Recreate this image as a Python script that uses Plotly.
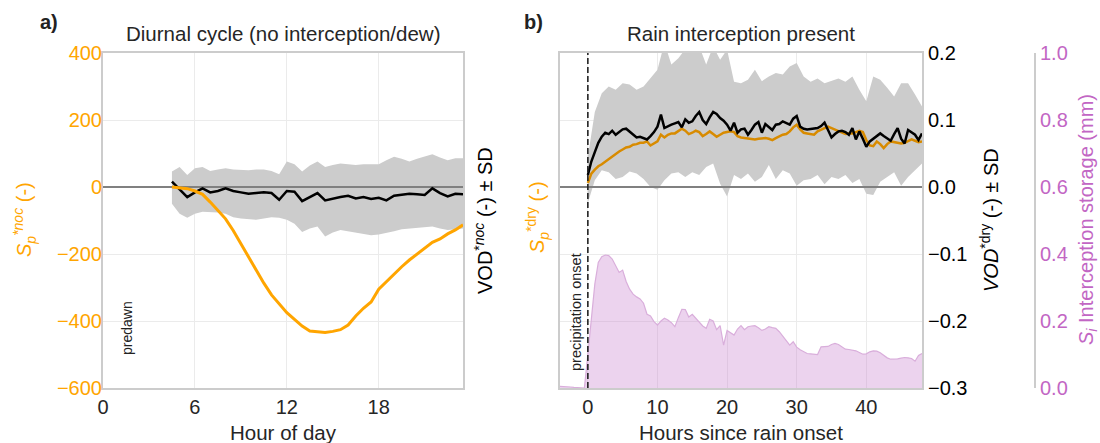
import plotly.graph_objects as go

W, H = 1100, 443

# ---------------- Panel a: diurnal cycle ----------------
hour_a = [4.5 + 0.5 * i for i in range(39)]
vod_noc = [0.008, -0.004, -0.015, -0.008, -0.002, -0.008, -0.006, -0.002, -0.006, -0.008,
           -0.010, -0.009, -0.008, -0.009, -0.019, -0.006, -0.007, -0.021, -0.015, -0.009,
           -0.020, -0.017, -0.015, -0.013, -0.017, -0.015, -0.018, -0.016, -0.020, -0.013,
           -0.012, -0.010, -0.011, -0.012, -0.002, -0.009, -0.014, -0.010, -0.011]
vod_noc_upper = [0.023, 0.030, 0.018, 0.028, 0.030, 0.024, 0.026, 0.028, 0.026, 0.025,
                 0.025, 0.026, 0.026, 0.024, 0.019, 0.038, 0.034, 0.023, 0.032, 0.038,
                 0.030, 0.033, 0.035, 0.034, 0.033, 0.034, 0.034, 0.034, 0.040, 0.045,
                 0.042, 0.038, 0.042, 0.045, 0.049, 0.044, 0.040, 0.043, 0.043]
vod_noc_lower = [-0.025, -0.040, -0.046, -0.040, -0.037, -0.037, -0.038, -0.040, -0.045, -0.047,
                 -0.048, -0.049, -0.047, -0.045, -0.046, -0.049, -0.055, -0.067, -0.062, -0.059,
                 -0.074, -0.068, -0.064, -0.066, -0.067, -0.070, -0.072, -0.071, -0.069, -0.066,
                 -0.063, -0.062, -0.060, -0.059, -0.059, -0.062, -0.064, -0.063, -0.062]
sp_noc = [0, -2, -5, -12, -22, -45, -70, -95, -130, -170,
          -210, -248, -287, -322, -350, -375, -395, -415, -430, -433,
          -434, -431, -426, -412, -385, -362, -343, -305, -282, -260,
          -238, -218, -200, -181, -165, -155, -140, -128, -113]

# ---------------- Panel b: rain interception ----------------
hour_b = [0.5 * i for i in range(97)]
vod_dry = [0.018, 0.038, 0.052, 0.066, 0.075, 0.081, 0.079, 0.084, 0.078, 0.082,
           0.086, 0.087, 0.083, 0.079, 0.074, 0.075, 0.073, 0.071, 0.076, 0.082,
           0.090, 0.108, 0.088, 0.091, 0.093, 0.095, 0.097, 0.089, 0.101, 0.096,
           0.098, 0.106, 0.112, 0.100, 0.094, 0.104, 0.112, 0.109, 0.103, 0.099,
           0.093, 0.084, 0.096, 0.081, 0.086, 0.087, 0.078, 0.085, 0.093, 0.097,
           0.081, 0.094, 0.090, 0.085, 0.093, 0.094, 0.098, 0.095, 0.093, 0.102,
           0.106, 0.090, 0.087, 0.086, 0.087, 0.088, 0.088, 0.091, 0.096, 0.085,
           0.074, 0.079, 0.083, 0.084, 0.082, 0.078, 0.088, 0.071, 0.083, 0.072,
           0.060, 0.068, 0.072, 0.076, 0.080, 0.076, 0.072, 0.069, 0.079, 0.088,
           0.072, 0.065, 0.085, 0.082, 0.078, 0.070, 0.080]
sp_dry = [0.006, 0.020, 0.026, 0.031, 0.034, 0.038, 0.042, 0.046, 0.050, 0.053,
          0.056, 0.059, 0.060, 0.063, 0.064, 0.066, 0.066, 0.068, 0.062, 0.065,
          0.068, 0.078, 0.074, 0.078, 0.080, 0.080, 0.083, 0.087, 0.084, 0.079,
          0.081, 0.084, 0.082, 0.076, 0.079, 0.083, 0.079, 0.075, 0.078, 0.081,
          0.082, 0.083, 0.082, 0.076, 0.074, 0.073, 0.072, 0.071, 0.071, 0.072,
          0.073, 0.073, 0.072, 0.070, 0.073, 0.076, 0.078, 0.079, 0.083, 0.089,
          0.093, 0.086, 0.081, 0.080, 0.079, 0.078, 0.083, 0.086, 0.088, 0.090,
          0.088, 0.086, 0.084, 0.082, 0.079, 0.080, 0.080, 0.082, 0.084, 0.082,
          0.070, 0.062, 0.061, 0.068, 0.064, 0.058, 0.064, 0.068, 0.067, 0.066,
          0.065, 0.066, 0.068, 0.071, 0.069, 0.067, 0.068]
hour_band_b = list(range(49))
vod_dry_upper = [0.045, 0.112, 0.140, 0.150, 0.145, 0.155, 0.153, 0.145, 0.150, 0.163,
                 0.175, 0.215, 0.183, 0.192, 0.205, 0.220, 0.210, 0.183, 0.210, 0.190,
                 0.205, 0.157, 0.155, 0.160, 0.175, 0.158, 0.165, 0.170, 0.168, 0.180,
                 0.185, 0.165, 0.157, 0.162, 0.155, 0.158, 0.162, 0.157, 0.165, 0.145,
                 0.128, 0.165, 0.160, 0.148, 0.135, 0.155, 0.155, 0.138, 0.120]
vod_dry_lower = [-0.024, 0.010, 0.025, 0.022, 0.012, 0.015, 0.023, 0.020, 0.012, 0.000,
                 -0.004, 0.010, 0.020, 0.022, 0.015, 0.022, 0.018, 0.030, 0.035, 0.005,
                 -0.014, 0.018, 0.012, 0.020, 0.008, 0.015, 0.033, 0.012, 0.025, 0.020,
                 0.002, 0.010, 0.012, 0.018, 0.004, 0.015, 0.012, 0.018, 0.006, 0.012,
                 -0.010, -0.012, 0.008, 0.015, 0.022, 0.002, 0.015, 0.025, 0.035]
hour_si = [-4 + 0.5 * i for i in range(105)]
si_storage = [0.005, 0.005, 0.004, 0.003, 0.002, 0.001, 0.0, 0.0,
              0.10, 0.21, 0.31, 0.375, 0.392, 0.397, 0.395, 0.385, 0.365, 0.345,
              0.352, 0.318, 0.295, 0.280, 0.272, 0.266, 0.253, 0.220, 0.215, 0.198,
              0.188, 0.200, 0.208, 0.203, 0.195, 0.183, 0.210, 0.235, 0.234, 0.212,
              0.220, 0.208, 0.196, 0.185, 0.178, 0.205, 0.200, 0.174, 0.186, 0.128,
              0.172, 0.165, 0.158, 0.176, 0.186, 0.174, 0.183, 0.185, 0.186, 0.180,
              0.172, 0.176, 0.183, 0.180, 0.178, 0.168, 0.155, 0.140, 0.128, 0.138,
              0.122, 0.114, 0.108, 0.103, 0.102, 0.101, 0.100, 0.123, 0.123, 0.124,
              0.130, 0.133, 0.130, 0.122, 0.116, 0.115, 0.113, 0.111, 0.106, 0.101,
              0.102, 0.108, 0.111, 0.110, 0.105, 0.097, 0.090, 0.086, 0.086, 0.087,
              0.089, 0.091, 0.090, 0.088, 0.080, 0.097, 0.103]

# tick definitions
xticks_a = [0, 6, 12, 18]
xticks_b = [0, 10, 20, 30, 40]
yticks_sp = [-600, -400, -200, 0, 200, 400]
yticks_vod = [-0.3, -0.2, -0.1, 0.0, 0.1, 0.2]
yticks_si = [0.0, 0.2, 0.4, 0.6, 0.8, 1.0]

ORANGE = "#FFA500"
DORANGE = "#d88b00"
PINK = "#c266c4"
BAND = "#cccccc"
FRAME = "#cccccc"
GRID = "#ebebeb"
TXT = "#262626"

def px(x):
    return x / W

def py(y):
    return 1 - y / H

xa_dom = [px(103), px(463)]
xb_dom = [px(560), px(922)]
y_dom = [py(388), py(53)]

fig = go.Figure()

# ---- panel a ----
fig.add_trace(go.Scatter(x=hour_a, y=vod_noc_upper, mode="lines", line=dict(width=0),
                         xaxis="x", yaxis="y", hoverinfo="skip"))
fig.add_trace(go.Scatter(x=hour_a, y=vod_noc_lower, mode="lines", line=dict(width=0),
                         fill="tonexty", fillcolor=BAND, xaxis="x", yaxis="y"))
fig.add_trace(go.Scatter(x=[0, 23.5], y=[0, 0], mode="lines",
                         line=dict(color="#808080", width=2), xaxis="x", yaxis="y"))
fig.add_trace(go.Scatter(x=hour_a, y=vod_noc, mode="lines",
                         line=dict(color="black", width=2.5), xaxis="x", yaxis="y"))
fig.add_trace(go.Scatter(x=hour_a, y=sp_noc, mode="lines",
                         line=dict(color=ORANGE, width=3), xaxis="x", yaxis="y2"))

# ---- panel b ----
fig.add_trace(go.Scatter(x=hour_band_b, y=vod_dry_upper, mode="lines", line=dict(width=0),
                         xaxis="x2", yaxis="y3"))
fig.add_trace(go.Scatter(x=hour_band_b, y=vod_dry_lower, mode="lines", line=dict(width=0),
                         fill="tonexty", fillcolor=BAND, xaxis="x2", yaxis="y3"))
fig.add_trace(go.Scatter(x=[-4, 48], y=[0, 0], mode="lines",
                         line=dict(color="#808080", width=2), xaxis="x2", yaxis="y3"))
fig.add_trace(go.Scatter(x=hour_b, y=sp_dry, mode="lines",
                         line=dict(color=DORANGE, width=2.5), xaxis="x2", yaxis="y3"))
fig.add_trace(go.Scatter(x=hour_b, y=vod_dry, mode="lines",
                         line=dict(color="black", width=2.5), xaxis="x2", yaxis="y3"))
fig.add_trace(go.Scatter(x=hour_si, y=si_storage, mode="lines",
                         line=dict(color="#d9aedb", width=1.2),
                         fill="tozeroy", fillcolor="rgba(205,140,210,0.38)",
                         xaxis="x2", yaxis="y4"))

axis_common = dict(showgrid=True, gridcolor=GRID, gridwidth=1, zeroline=False,
                   ticks="", tickfont=dict(size=20, color=TXT), automargin=False)

fig.update_layout(
    width=W, height=H, margin=dict(l=0, r=0, t=0, b=0, autoexpand=False),
    plot_bgcolor="white", paper_bgcolor="white", showlegend=False,
    font=dict(family="Liberation Sans, Arial, sans-serif", size=20, color=TXT),
    xaxis=dict(domain=xa_dom, range=[0, 23.5], tickvals=xticks_a, anchor="y",
               showline=True, linecolor=FRAME, linewidth=2, mirror=True, **axis_common),
    yaxis=dict(domain=y_dom, range=[-0.3, 0.2], anchor="x", side="right",
               showticklabels=False, showgrid=False, zeroline=False, ticks="",
               showline=True, linecolor=FRAME, linewidth=2, mirror=True, automargin=False),
    yaxis2=dict(overlaying="y", anchor="x", side="left", range=[-600, 400],
                tickvals=yticks_sp, showgrid=True, gridcolor=GRID, zeroline=False,
                ticks="", tickfont=dict(size=20, color=ORANGE), showline=False,
                automargin=False),
    xaxis2=dict(domain=xb_dom, range=[-4, 48], tickvals=xticks_b, anchor="y3",
                showline=True, linecolor=FRAME, linewidth=2, mirror=True, **axis_common),
    yaxis3=dict(domain=y_dom, range=[-0.3, 0.2], anchor="x2", side="right",
                tickvals=yticks_vod, tickformat=".1f",
                showline=True, linecolor=FRAME, linewidth=2, mirror=True,
                showgrid=True, gridcolor=GRID, zeroline=False, ticks="",
                tickfont=dict(size=20, color="black"), automargin=False),
    yaxis4=dict(overlaying="y3", anchor="free", position=px(1035), side="right",
                range=[0, 1], tickvals=yticks_si, tickformat=".1f",
                showgrid=False, zeroline=False, ticks="",
                showline=True, linecolor=FRAME, linewidth=2,
                tickfont=dict(size=20, color=PINK), automargin=False),
)

# precipitation onset line
fig.add_shape(type="line", xref="x2", yref="paper", x0=0, x1=0, y0=y_dom[0], y1=y_dom[1],
              line=dict(color="#222222", width=1.6, dash="6px,3px"), layer="above")

ann = []
def add_text(x, y, text, size=20, color=TXT, angle=0, xanchor="center"):
    ann.append(dict(x=px(x), y=py(y), xref="paper", yref="paper", text=text,
                    showarrow=False, textangle=angle, xanchor=xanchor, yanchor="middle",
                    font=dict(size=size, color=color)))

add_text(49, 22, "<b>a)</b>", size=20, color="#222222")
add_text(533, 22, "<b>b)</b>", size=20, color="#222222")
add_text(283, 33, "Diurnal cycle (no interception/dew)", size=20.5)
add_text(741, 33, "Rain interception present", size=20.5)
add_text(283, 432, "Hour of day", size=20.5)
add_text(741, 432, "Hours since rain onset", size=20.5)
add_text(25, 220, "<i>S</i><sub><i>p</i></sub><sup><i>*noc</i></sup> (-)", size=20,
         color=ORANGE, angle=-90)
add_text(483, 221, "VOD<sup>*<i>noc</i></sup> (-) ± SD", size=20, color="black", angle=-90)
add_text(537, 217, "<i>S</i><sub><i>p</i></sub><sup>*dry</sup> (-)", size=20,
         color=ORANGE, angle=-90)
add_text(990, 220, "<i>VOD</i><sup>*dry</sup> (-) ± SD", size=20, color="black", angle=-90)
add_text(1088, 220, "<i>S<sub>i</sub></i> Interception storage (mm)", size=20,
         color=PINK, angle=-90)
add_text(127, 328, "predawn", size=14, color="#222222", angle=-90)
add_text(576, 312, "precipitation onset", size=14.5, color="#222222", angle=-90)
fig.update_layout(annotations=ann)

fig.write_html("out.html")
